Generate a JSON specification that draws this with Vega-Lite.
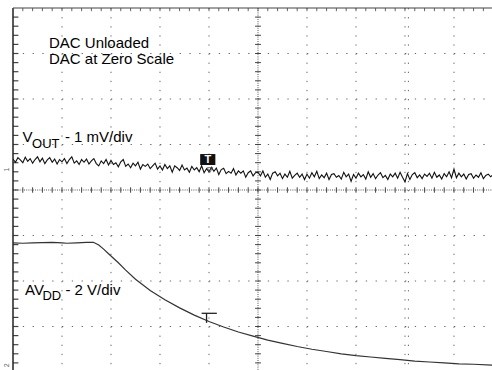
{
  "$schema": "https://vega.github.io/schema/vega-lite/v6.json",
  "width": 479,
  "height": 362,
  "autosize": {"type": "none"},
  "padding": {"left": 13, "top": 8, "right": 0, "bottom": 0},
  "background": "white",
  "config": {"view": {"stroke": null}, "axis": {"disable": true}},
  "datasets": {
    "majorT": [{"t": 1}, {"t": 2}, {"t": 3}, {"t": 4}, {"t": 6}, {"t": 7}, {"t": 8}, {"t": 8.07}, {"t": 9}],
    "majorV": [{"v": 3}, {"v": 2}, {"v": 1}, {"v": -1}, {"v": -2}, {"v": -3}],
    "minorT": [{"t":0.2},{"t":0.4},{"t":0.6},{"t":0.8},{"t":1},{"t":1.2},{"t":1.4},{"t":1.6},{"t":1.8},{"t":2},{"t":2.2},{"t":2.4},{"t":2.6},{"t":2.8},{"t":3},{"t":3.2},{"t":3.4},{"t":3.6},{"t":3.8},{"t":4},{"t":4.2},{"t":4.4},{"t":4.6},{"t":4.8},{"t":5},{"t":5.2},{"t":5.4},{"t":5.6},{"t":5.8},{"t":6},{"t":6.2},{"t":6.4},{"t":6.6},{"t":6.8},{"t":7},{"t":7.2},{"t":7.4},{"t":7.6},{"t":7.8},{"t":8},{"t":8.2},{"t":8.4},{"t":8.6},{"t":8.8},{"t":9},{"t":9.2},{"t":9.4},{"t":9.6}],
    "minorV": [{"v":-3.8},{"v":-3.6},{"v":-3.4},{"v":-3.2},{"v":-3},{"v":-2.8},{"v":-2.6},{"v":-2.4},{"v":-2.2},{"v":-2},{"v":-1.8},{"v":-1.6},{"v":-1.4},{"v":-1.2},{"v":-1},{"v":-0.8},{"v":-0.6},{"v":-0.4},{"v":-0.2},{"v":0},{"v":0.2},{"v":0.4},{"v":0.6},{"v":0.8},{"v":1},{"v":1.2},{"v":1.4},{"v":1.6},{"v":1.8},{"v":2},{"v":2.2},{"v":2.4},{"v":2.6},{"v":2.8},{"v":3},{"v":3.2},{"v":3.4},{"v":3.6},{"v":3.8}],
    "center": [{"t": 5, "v": 0}],
    "vout": [
      {"t":0,"v":0.68},{"t":0.05,"v":0.61},{"t":0.1,"v":0.71},{"t":0.15,"v":0.66},{"t":0.2,"v":0.60},{"t":0.25,"v":0.72},{"t":0.3,"v":0.63},{"t":0.35,"v":0.69},{"t":0.4,"v":0.59},{"t":0.45,"v":0.67},{"t":0.5,"v":0.73},{"t":0.55,"v":0.62},{"t":0.6,"v":0.70},{"t":0.65,"v":0.58},{"t":0.7,"v":0.66},{"t":0.75,"v":0.71},{"t":0.8,"v":0.61},{"t":0.85,"v":0.68},{"t":0.9,"v":0.57},{"t":0.95,"v":0.67},
      {"t":1,"v":0.62},{"t":1.05,"v":0.69},{"t":1.1,"v":0.58},{"t":1.15,"v":0.67},{"t":1.2,"v":0.73},{"t":1.25,"v":0.59},{"t":1.3,"v":0.64},{"t":1.35,"v":0.56},{"t":1.4,"v":0.67},{"t":1.45,"v":0.61},{"t":1.5,"v":0.68},{"t":1.55,"v":0.57},{"t":1.6,"v":0.64},{"t":1.65,"v":0.69},{"t":1.7,"v":0.58},{"t":1.75,"v":0.53},{"t":1.8,"v":0.64},{"t":1.85,"v":0.58},{"t":1.9,"v":0.67},{"t":1.95,"v":0.55},
      {"t":2,"v":0.65},{"t":2.05,"v":0.56},{"t":2.1,"v":0.60},{"t":2.15,"v":0.51},{"t":2.2,"v":0.62},{"t":2.25,"v":0.67},{"t":2.3,"v":0.52},{"t":2.35,"v":0.57},{"t":2.4,"v":0.49},{"t":2.45,"v":0.59},{"t":2.5,"v":0.53},{"t":2.55,"v":0.61},{"t":2.6,"v":0.46},{"t":2.65,"v":0.56},{"t":2.7,"v":0.52},{"t":2.75,"v":0.57},{"t":2.8,"v":0.47},{"t":2.85,"v":0.53},{"t":2.9,"v":0.59},{"t":2.95,"v":0.46},
      {"t":3,"v":0.53},{"t":3.05,"v":0.44},{"t":3.1,"v":0.56},{"t":3.15,"v":0.47},{"t":3.2,"v":0.53},{"t":3.25,"v":0.39},{"t":3.3,"v":0.53},{"t":3.35,"v":0.49},{"t":3.4,"v":0.43},{"t":3.45,"v":0.55},{"t":3.5,"v":0.44},{"t":3.55,"v":0.48},{"t":3.6,"v":0.39},{"t":3.65,"v":0.52},{"t":3.7,"v":0.44},{"t":3.75,"v":0.49},{"t":3.8,"v":0.40},{"t":3.85,"v":0.53},{"t":3.9,"v":0.38},{"t":3.95,"v":0.47},
      {"t":4,"v":0.40},{"t":4.05,"v":0.50},{"t":4.1,"v":0.41},{"t":4.15,"v":0.48},{"t":4.2,"v":0.34},{"t":4.25,"v":0.45},{"t":4.3,"v":0.48},{"t":4.35,"v":0.36},{"t":4.4,"v":0.41},{"t":4.45,"v":0.37},{"t":4.5,"v":0.47},{"t":4.55,"v":0.33},{"t":4.6,"v":0.42},{"t":4.65,"v":0.37},{"t":4.7,"v":0.42},{"t":4.75,"v":0.28},{"t":4.8,"v":0.38},{"t":4.85,"v":0.42},{"t":4.9,"v":0.31},{"t":4.95,"v":0.38},
      {"t":5,"v":0.39},{"t":5.05,"v":0.31},{"t":5.1,"v":0.42},{"t":5.15,"v":0.28},{"t":5.2,"v":0.35},{"t":5.25,"v":0.23},{"t":5.3,"v":0.37},{"t":5.35,"v":0.40},{"t":5.4,"v":0.31},{"t":5.45,"v":0.37},{"t":5.5,"v":0.25},{"t":5.55,"v":0.35},{"t":5.6,"v":0.28},{"t":5.65,"v":0.41},{"t":5.7,"v":0.26},{"t":5.75,"v":0.32},{"t":5.8,"v":0.37},{"t":5.85,"v":0.28},{"t":5.9,"v":0.35},{"t":5.95,"v":0.23},
      {"t":6,"v":0.35},{"t":6.05,"v":0.26},{"t":6.1,"v":0.38},{"t":6.15,"v":0.29},{"t":6.2,"v":0.41},{"t":6.25,"v":0.25},{"t":6.3,"v":0.33},{"t":6.35,"v":0.27},{"t":6.4,"v":0.37},{"t":6.45,"v":0.23},{"t":6.5,"v":0.34},{"t":6.55,"v":0.36},{"t":6.6,"v":0.28},{"t":6.65,"v":0.32},{"t":6.7,"v":0.24},{"t":6.75,"v":0.39},{"t":6.8,"v":0.29},{"t":6.85,"v":0.35},{"t":6.9,"v":0.19},{"t":6.95,"v":0.34},
      {"t":7,"v":0.26},{"t":7.05,"v":0.37},{"t":7.1,"v":0.29},{"t":7.15,"v":0.34},{"t":7.2,"v":0.24},{"t":7.25,"v":0.40},{"t":7.3,"v":0.28},{"t":7.35,"v":0.36},{"t":7.4,"v":0.25},{"t":7.45,"v":0.33},{"t":7.5,"v":0.38},{"t":7.55,"v":0.27},{"t":7.6,"v":0.32},{"t":7.65,"v":0.23},{"t":7.7,"v":0.35},{"t":7.75,"v":0.29},{"t":7.8,"v":0.37},{"t":7.85,"v":0.26},{"t":7.9,"v":0.39},{"t":7.95,"v":0.28},
      {"t":8,"v":0.18},{"t":8.05,"v":0.36},{"t":8.1,"v":0.23},{"t":8.15,"v":0.34},{"t":8.2,"v":0.38},{"t":8.25,"v":0.27},{"t":8.3,"v":0.33},{"t":8.35,"v":0.25},{"t":8.4,"v":0.35},{"t":8.45,"v":0.30},{"t":8.5,"v":0.37},{"t":8.55,"v":0.26},{"t":8.6,"v":0.39},{"t":8.65,"v":0.28},{"t":8.7,"v":0.33},{"t":8.75,"v":0.24},{"t":8.8,"v":0.36},{"t":8.85,"v":0.29},{"t":8.9,"v":0.40},{"t":8.95,"v":0.27},
      {"t":9,"v":0.46},{"t":9.05,"v":0.27},{"t":9.1,"v":0.37},{"t":9.15,"v":0.29},{"t":9.2,"v":0.35},{"t":9.25,"v":0.24},{"t":9.3,"v":0.34},{"t":9.35,"v":0.36},{"t":9.4,"v":0.26},{"t":9.45,"v":0.33},{"t":9.5,"v":0.28},{"t":9.55,"v":0.38},{"t":9.6,"v":0.25},{"t":9.65,"v":0.32},{"t":9.7,"v":0.35},{"t":9.75,"v":0.29},{"t":9.8,"v":0.34}
    ],
    "avdd": [
      {"t":0,"v":-1.16},{"t":0.2,"v":-1.17},{"t":0.4,"v":-1.16},{"t":0.6,"v":-1.155},{"t":0.8,"v":-1.15},{"t":1.0,"v":-1.16},{"t":1.1,"v":-1.17},{"t":1.3,"v":-1.16},{"t":1.5,"v":-1.15},{"t":1.64,"v":-1.15},{"t":1.75,"v":-1.21},{"t":1.85,"v":-1.30},{"t":1.95,"v":-1.40},{"t":2.05,"v":-1.50},{"t":2.15,"v":-1.60},{"t":2.3,"v":-1.76},{"t":2.5,"v":-1.96},{"t":2.8,"v":-2.21},{"t":3.1,"v":-2.41},{"t":3.4,"v":-2.59},{"t":3.7,"v":-2.75},{"t":4.0,"v":-2.89},{"t":4.3,"v":-3.01},{"t":4.6,"v":-3.12},{"t":4.9,"v":-3.21},{"t":5.2,"v":-3.30},{"t":5.5,"v":-3.37},{"t":5.8,"v":-3.44},{"t":6.1,"v":-3.50},{"t":6.4,"v":-3.55},{"t":6.7,"v":-3.60},{"t":7.0,"v":-3.64},{"t":7.3,"v":-3.67},{"t":7.6,"v":-3.70},{"t":7.9,"v":-3.73},{"t":8.2,"v":-3.76},{"t":8.5,"v":-3.78},{"t":8.8,"v":-3.80},{"t":9.1,"v":-3.82},{"t":9.4,"v":-3.83},{"t":9.8,"v":-3.85}
    ],
    "labels": [
      {"label": "DAC Unloaded", "t": 0.735, "v": 3.11},
      {"label": "DAC at Zero Scale", "t": 0.735, "v": 2.76},
      {"label": "V", "t": 0.194, "v": 1.05},
      {"label": "- 1 mV/div", "t": 1.06, "v": 1.05},
      {"label": "AV", "t": 0.245, "v": -2.31},
      {"label": "- 2 V/div", "t": 1.07, "v": -2.31}
    ],
    "subs": [
      {"label": "OUT", "t": 0.39, "v": 0.93},
      {"label": "DD", "t": 0.6, "v": -2.42}
    ],
    "chmarks": [
      {"label": "1", "t": -0.12, "v": 0.45},
      {"label": "2", "t": -0.12, "v": -3.85}
    ]
  },
  "layer": [
    {
      "data": {"name": "majorT"},
      "mark": {"type": "rule", "color": "#666", "strokeWidth": 1, "strokeDash": [1.3, 7.8]},
      "encoding": {
        "x": {"field": "t", "type": "quantitative", "scale": {"domain": [0, 9.776], "nice": false, "zero": false}},
        "y": {"datum": 4, "type": "quantitative", "scale": {"domain": [-3.956, 4], "nice": false, "zero": false}},
        "y2": {"datum": -3.956}
      }
    },
    {
      "data": {"name": "majorV"},
      "mark": {"type": "rule", "color": "#666", "strokeWidth": 1, "strokeDash": [1.3, 8.5]},
      "encoding": {
        "y": {"field": "v", "type": "quantitative"},
        "x": {"datum": 0, "type": "quantitative"},
        "x2": {"datum": 9.776}
      }
    },
    {
      "data": {"name": "center"},
      "mark": {"type": "rule", "color": "#555", "strokeWidth": 1, "strokeDash": [1, 1.2]},
      "encoding": {
        "y": {"field": "v", "type": "quantitative"},
        "x": {"datum": 0, "type": "quantitative"},
        "x2": {"datum": 9.776}
      }
    },
    {
      "data": {"name": "center"},
      "mark": {"type": "rule", "color": "#555", "strokeWidth": 1, "strokeDash": [1, 1.2]},
      "encoding": {
        "x": {"field": "t", "type": "quantitative"},
        "y": {"datum": 4, "type": "quantitative"},
        "y2": {"datum": -3.956}
      }
    },
    {
      "data": {"name": "minorT"},
      "mark": {"type": "rule", "color": "#444", "strokeWidth": 1},
      "encoding": {
        "x": {"field": "t", "type": "quantitative"},
        "y": {"datum": 0.06, "type": "quantitative"},
        "y2": {"datum": -0.06}
      }
    },
    {
      "data": {"name": "minorV"},
      "mark": {"type": "rule", "color": "#444", "strokeWidth": 1},
      "encoding": {
        "y": {"field": "v", "type": "quantitative"},
        "x": {"datum": 4.94, "type": "quantitative"},
        "x2": {"datum": 5.06}
      }
    },
    {
      "data": {"name": "minorV"},
      "mark": {"type": "rule", "color": "#444", "strokeWidth": 1.2},
      "encoding": {
        "y": {"field": "v", "type": "quantitative"},
        "x": {"datum": 0, "type": "quantitative"},
        "x2": {"datum": 0.11}
      }
    },
    {
      "data": {"name": "minorT"},
      "mark": {"type": "rule", "color": "#666", "strokeWidth": 1},
      "encoding": {
        "x": {"field": "t", "type": "quantitative"},
        "y": {"datum": 4, "type": "quantitative"},
        "y2": {"datum": 3.93}
      }
    },
    {
      "data": {"values": [{}]},
      "mark": {"type": "rule", "color": "#222", "strokeWidth": 1.5},
      "encoding": {
        "x": {"datum": 0, "type": "quantitative"},
        "y": {"datum": 4, "type": "quantitative"},
        "y2": {"datum": -3.956}
      }
    },
    {
      "data": {"values": [{}]},
      "mark": {"type": "rule", "color": "#444", "strokeWidth": 1.2},
      "encoding": {
        "y": {"datum": 4, "type": "quantitative"},
        "x": {"datum": 0, "type": "quantitative"},
        "x2": {"datum": 9.776}
      }
    },
    {
      "data": {"name": "avdd"},
      "mark": {"type": "line", "color": "#333", "strokeWidth": 1.2, "clip": true},
      "encoding": {
        "x": {"field": "t", "type": "quantitative"},
        "y": {"field": "v", "type": "quantitative"}
      }
    },
    {
      "data": {"name": "vout"},
      "mark": {"type": "line", "color": "#111", "strokeWidth": 1.1, "clip": true},
      "encoding": {
        "x": {"field": "t", "type": "quantitative"},
        "y": {"field": "v", "type": "quantitative"}
      }
    },
    {
      "data": {"values": [{}]},
      "mark": {"type": "rect", "color": "#111"},
      "encoding": {
        "x": {"datum": 3.82, "type": "quantitative"},
        "x2": {"datum": 4.13},
        "y": {"datum": 0.79, "type": "quantitative"},
        "y2": {"datum": 0.55}
      }
    },
    {
      "data": {"values": [{"label": "T"}]},
      "mark": {"type": "text", "color": "white", "font": "Liberation Sans", "fontSize": 11, "fontWeight": "bold", "align": "center", "baseline": "middle"},
      "encoding": {
        "text": {"field": "label"},
        "x": {"datum": 3.975, "type": "quantitative"},
        "y": {"datum": 0.67, "type": "quantitative"}
      }
    },
    {
      "data": {"values": [{}]},
      "mark": {"type": "point", "shape": "triangle-down", "filled": false, "color": "#444", "size": 30, "strokeWidth": 1},
      "encoding": {
        "x": {"datum": 4.02, "type": "quantitative"},
        "y": {"datum": 0.44, "type": "quantitative"}
      }
    },
    {
      "data": {"values": [{}]},
      "mark": {"type": "rule", "color": "#222", "strokeWidth": 1.3},
      "encoding": {
        "y": {"datum": -2.71, "type": "quantitative"},
        "x": {"datum": 3.85, "type": "quantitative"},
        "x2": {"datum": 4.16}
      }
    },
    {
      "data": {"values": [{}]},
      "mark": {"type": "rule", "color": "#222", "strokeWidth": 1.3},
      "encoding": {
        "x": {"datum": 3.95, "type": "quantitative"},
        "y": {"datum": -2.71, "type": "quantitative"},
        "y2": {"datum": -2.92}
      }
    },
    {
      "data": {"name": "labels"},
      "mark": {"type": "text", "color": "#000", "font": "Liberation Sans", "fontSize": 15, "align": "left", "baseline": "alphabetic"},
      "encoding": {
        "text": {"field": "label"},
        "x": {"field": "t", "type": "quantitative"},
        "y": {"field": "v", "type": "quantitative"}
      }
    },
    {
      "data": {"name": "subs"},
      "mark": {"type": "text", "color": "#000", "font": "Liberation Sans", "fontSize": 13, "align": "left", "baseline": "alphabetic"},
      "encoding": {
        "text": {"field": "label"},
        "x": {"field": "t", "type": "quantitative"},
        "y": {"field": "v", "type": "quantitative"}
      }
    },
    {
      "data": {"name": "chmarks"},
      "mark": {"type": "text", "color": "#666", "font": "Liberation Sans", "fontSize": 7, "angle": 270, "align": "center", "baseline": "middle"},
      "encoding": {
        "text": {"field": "label"},
        "x": {"field": "t", "type": "quantitative"},
        "y": {"field": "v", "type": "quantitative"}
      }
    }
  ]
}
